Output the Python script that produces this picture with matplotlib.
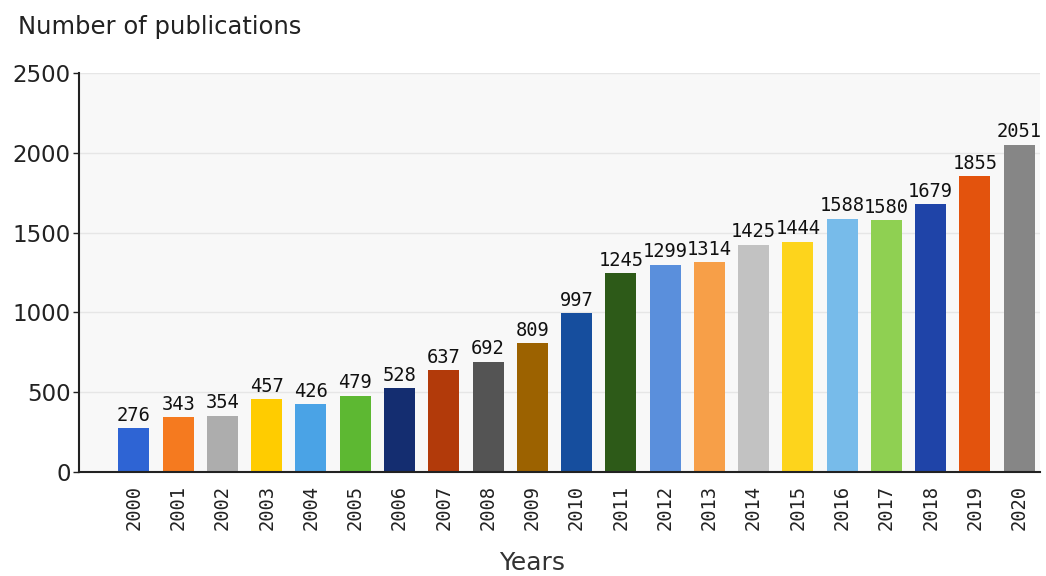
import matplotlib.pyplot as plt

years = [str(y) for y in range(2000, 2021)]
counts = [276, 343, 354, 457, 426, 479, 528, 637, 692, 809, 997,
          1245, 1299, 1314, 1425, 1444, 1588, 1580, 1679, 1855, 2051]
colors = ['#2e64d4', '#f57a1f', '#adadad', '#ffcc00', '#4aa3e6', '#5db832',
          '#142d70', '#b23a0a', '#545454', '#9c6200', '#164e9e', '#2d5a18',
          '#5a8fdc', '#f79f48', '#c2c2c2', '#fdd41c', '#77bbea', '#8fd052',
          '#1f44a8', '#e3530d', '#868686']

fig = plt.figure(figsize=(10.46, 5.76), dpi=100)
ax = fig.add_axes([79 / 1046, 1 - 472 / 576, (1040 - 79) / 1046, (472 - 73) / 576])
ax.set_facecolor('#f8f8f8')

x = list(range(len(years)))
ax.bar(x, counts, width=0.7, color=colors, zorder=2)
for xi, c in zip(x, counts):
    ax.text(xi, c + 20, str(c), ha='center', va='bottom', fontsize=13.5,
            family='DejaVu Sans Mono', color='#111111')

ax.set_xlim(-1.24, 20.47)
ax.set_ylim(0, 2500)
ax.set_yticks([0, 500, 1000, 1500, 2000, 2500])
ax.set_xticks(x)
ax.set_xticklabels(years, rotation=90, fontsize=13.5, family='DejaVu Sans Mono',
                   color='#222222')
ax.tick_params(axis='x', length=0, pad=9)
ax.tick_params(axis='y', length=4, width=1, labelsize=16.5, colors='#222222', pad=2)
ax.grid(axis='y', color='#e6e6e6', linewidth=1, zorder=0)
for s in ['top', 'right']:
    ax.spines[s].set_visible(False)
ax.spines['left'].set_color('#222222')
ax.spines['bottom'].set_color('#222222')
ax.spines['left'].set_linewidth(1.5)
ax.spines['bottom'].set_linewidth(1.5)

fig.text(18 / 1046, 1 - 27 / 576, 'Number of publications', fontsize=17.5, color='#222222',
         ha='left', va='center')
fig.text(532 / 1046, 1 - 563 / 576, 'Years', fontsize=18, color='#333333',
         ha='center', va='center')

fig.savefig('out.png', dpi=100, facecolor='white')
